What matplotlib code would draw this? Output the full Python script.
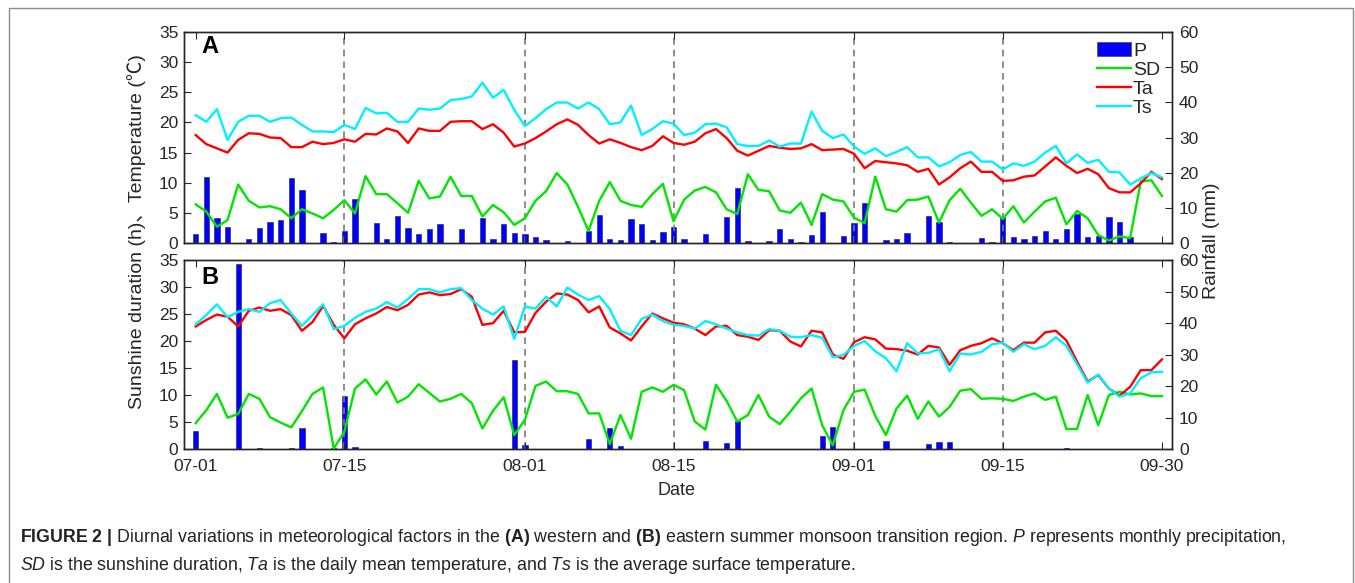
import matplotlib

matplotlib.use("Agg")
import matplotlib.pyplot as plt
from matplotlib.lines import Line2D
from matplotlib.patches import Patch, Rectangle

plt.rcParams["font.family"] = ["Liberation Sans", "DejaVu Sans"]
plt.rcParams["mathtext.fontset"] = "custom"
plt.rcParams["mathtext.rm"] = "Liberation Sans"
plt.rcParams["mathtext.it"] = "Liberation Sans:italic"
plt.rcParams["mathtext.bf"] = "Liberation Sans:bold"

# day index 0 = 07-01 ... 91 = 09-30
tick_days = [0, 14, 31, 45, 62, 76, 91]
tick_labels = ["07-01", "07-15", "08-01", "08-15", "09-01", "09-15", "09-30"]
guide_days = [14, 31, 45, 62, 76]

# panel A: western region
ts_a = [21.2, 20.1, 22.2, 17.1, 20.1, 21.1, 21.1, 20.1, 20.7, 20.8, 19.6, 18.5, 18.5, 18.4, 19.6, 18.9,
        22.4, 21.5, 21.6, 20.1, 20.1, 22.3, 22.1, 22.3, 23.7, 23.9, 24.3, 26.6, 24.1, 25.4,
        22.1, 19.4, 20.7, 22.2, 23.3, 23.3, 22.3, 23.3, 22.2, 19.7, 20.0, 22.8, 17.9, 18.9, 20.2, 19.8,
        17.9, 18.3, 19.7, 19.8, 19.2, 16.4, 16.1, 16.1, 17.0, 16.0, 16.5, 16.5, 21.8, 18.6, 17.4, 18.0, 16.0,
        14.8, 15.7, 14.4, 15.1, 15.9, 14.2, 14.2, 12.7, 13.4, 14.6, 15.1, 13.5, 13.5, 12.2, 13.2, 12.8,
        13.5, 15.0, 16.1, 13.2, 14.7, 13.3, 13.8, 11.8, 11.7, 9.7, 10.7, 11.6, 10.9]
ta_a = [17.9, 16.4, 15.7, 15.0, 17.1, 18.2, 18.1, 17.5, 17.4, 15.9, 15.9, 16.8, 16.4, 16.6, 17.2, 16.8,
        18.1, 18.0, 19.0, 18.5, 16.6, 19.0, 18.6, 18.6, 20.1, 20.2, 20.2, 18.9, 19.7, 18.3,
        16.0, 16.5, 17.4, 18.5, 19.7, 20.5, 19.6, 17.9, 16.5, 17.2, 16.6, 15.9, 15.4, 16.1, 17.7, 16.6,
        16.3, 16.8, 18.2, 18.9, 17.4, 15.3, 14.5, 15.3, 16.1, 15.8, 15.6, 15.7, 16.4, 15.4, 15.5, 15.6, 14.8,
        12.4, 13.6, 13.4, 13.2, 12.9, 11.8, 12.3, 9.7, 10.9, 12.4, 13.5, 11.8, 11.8, 10.3, 10.4, 11.0,
        11.2, 12.7, 14.2, 12.8, 11.6, 12.3, 11.4, 9.1, 8.4, 8.4, 9.9, 11.8, 10.6]
sd_a = [6.4, 5.2, 2.7, 3.8, 9.7, 7.0, 5.9, 6.1, 5.6, 4.1, 5.6, 4.9, 4.1, 5.5, 7.1, 4.9,
        11.1, 8.1, 8.1, 6.6, 5.0, 10.3, 7.4, 7.7, 11.0, 7.8, 7.8, 4.4, 6.3, 5.1,
        3.0, 4.1, 7.0, 8.6, 11.6, 9.7, 6.0, 2.0, 7.0, 10.1, 7.0, 6.3, 6.0, 8.1, 9.8, 3.6,
        7.2, 8.7, 9.3, 8.4, 5.6, 4.8, 11.4, 8.8, 8.6, 5.4, 5.0, 6.7, 3.0, 8.1, 7.2, 6.9, 4.2,
        3.3, 11.0, 5.6, 5.2, 7.1, 7.2, 7.7, 3.4, 7.1, 9.0, 6.7, 4.5, 5.6, 4.0, 6.1, 3.4,
        5.2, 6.9, 7.5, 3.1, 5.3, 4.1, 1.3, 0.4, 1.1, 0.8, 10.2, 10.4, 7.8]
p_a = [2.6, 18.9, 7.1, 4.6, 0.0, 1.1, 4.2, 6.1, 6.5, 18.6, 15.0, 0.0, 2.9, 0.4, 3.4, 12.5,
       0.0, 5.8, 1.1, 7.7, 4.2, 2.6, 4.0, 5.4, 0.0, 3.9, 0.0, 7.0, 1.1, 5.4,
       2.9, 2.6, 1.8, 0.8, 0.0, 0.6, 0.0, 3.5, 8.0, 1.0, 0.9, 6.8, 5.5, 0.9, 3.1, 4.5,
       1.0, 0.0, 2.5, 0.0, 7.5, 15.6, 0.6, 0.0, 0.5, 3.9, 1.1, 0.4, 2.2, 8.8, 0.0, 1.9, 5.6,
       11.3, 0.0, 0.9, 1.0, 2.7, 0.0, 7.7, 6.1, 0.2, 0.0, 0.0, 1.5, 0.2, 7.5, 1.6, 1.0,
       2.0, 3.4, 1.0, 4.0, 8.2, 1.6, 2.0, 7.3, 6.1, 1.7, 0.0, 0.0, 0.0]

# panel B: eastern region
ts_b = [23.1, 24.8, 26.8, 24.4, 25.4, 25.9, 25.4, 27.0, 27.6, 25.1, 22.8, 24.8, 26.8, 22.2, 22.8, 24.3,
        25.4, 26.0, 27.2, 26.2, 27.8, 29.6, 29.6, 29.0, 29.6, 29.8, 27.6, 26.0, 24.9, 26.4,
        20.4, 26.4, 26.0, 28.2, 26.4, 29.9, 28.6, 27.6, 28.3, 25.9, 21.9, 21.1, 24.1, 24.9, 23.7, 23.0,
        22.8, 22.3, 23.7, 23.1, 22.3, 21.6, 21.1, 21.0, 22.2, 21.9, 20.8, 20.7, 21.1, 20.6, 17.0, 17.4, 19.1,
        20.0, 18.1, 16.8, 14.4, 19.6, 17.7, 17.8, 18.5, 14.4, 17.7, 17.5, 18.0, 19.4, 19.7, 18.0, 19.4,
        18.5, 19.1, 20.7, 19.1, 15.7, 12.3, 13.8, 11.2, 9.7, 10.3, 13.1, 14.2, 14.3]
ta_b = [22.7, 23.9, 24.9, 24.5, 22.7, 25.6, 26.2, 25.6, 25.9, 24.8, 21.9, 23.5, 26.5, 23.0, 20.5, 23.1,
        24.2, 25.1, 26.3, 25.7, 26.7, 28.6, 29.0, 28.5, 28.7, 29.6, 28.2, 23.0, 23.3, 25.6,
        21.6, 21.7, 25.2, 27.3, 28.8, 28.6, 27.6, 25.3, 26.4, 22.5, 21.4, 20.1, 22.7, 25.1, 24.2, 23.4,
        23.1, 22.3, 21.1, 22.7, 22.8, 21.1, 20.8, 20.2, 22.0, 21.9, 19.9, 19.0, 21.9, 21.6, 17.5, 16.7, 19.8,
        20.7, 20.3, 18.6, 18.5, 18.2, 17.5, 19.1, 18.8, 15.6, 18.3, 19.1, 19.6, 20.5, 19.6, 18.3, 19.7,
        19.7, 21.6, 21.9, 20.1, 16.2, 12.5, 13.7, 11.2, 9.9, 11.5, 14.6, 14.6, 16.6]
sd_b = [4.8, 7.2, 10.2, 5.8, 6.5, 10.2, 9.3, 5.9, 4.9, 4.0, 7.0, 10.2, 11.4, 0.1, 3.2, 11.2,
        12.9, 10.1, 12.5, 8.6, 9.7, 12.0, 10.4, 8.8, 9.3, 10.2, 8.5, 3.8, 7.1, 9.6,
        2.6, 5.4, 11.7, 12.5, 10.7, 10.7, 10.2, 6.6, 6.6, 0.9, 6.3, 1.9, 10.6, 11.4, 10.6, 11.9,
        10.9, 5.1, 3.6, 11.9, 8.9, 5.1, 6.3, 10.0, 6.0, 4.6, 6.9, 9.4, 11.2, 4.4, 0.7, 7.2, 10.6,
        11.0, 6.1, 2.6, 7.5, 9.9, 5.6, 8.8, 6.0, 7.8, 10.8, 11.1, 9.3, 9.4, 9.3, 8.9, 9.7,
        10.3, 9.1, 9.7, 3.7, 3.7, 10.0, 4.4, 10.0, 10.6, 10.1, 10.3, 9.8, 9.8]
p_b = [5.7, 0.0, 0.0, 0.0, 58.6, 0.0, 0.3, 0.0, 0.0, 0.2, 6.8, 0.0, 0.0, 0.2, 16.9, 0.5,
       0.0, 0.0, 0.0, 0.0, 0.0, 0.0, 0.0, 0.0, 0.0, 0.0, 0.0, 0.1, 0.0, 0.0,
       28.3, 1.3, 0.0, 0.0, 0.0, 0.0, 0.0, 3.2, 0.0, 6.6, 1.0, 0.0, 0.0, 0.0, 0.0, 0.0,
       0.0, 0.0, 2.5, 0.0, 1.8, 9.0, 0.0, 0.0, 0.0, 0.0, 0.0, 0.0, 0.0, 4.1, 6.9, 0.0, 0.0,
       0.0, 0.0, 2.5, 0.0, 0.0, 0.0, 1.5, 2.1, 2.1, 0.0, 0.0, 0.0, 0.0, 0.0, 0.0, 0.0,
       0.0, 0.0, 0.1, 0.4, 0.0, 0.0, 0.0, 0.0, 0.0, 0.0, 0.0, 0.0, 0.0]

TEXT = "#262626"
BAR_BLUE = "#0000ff"
SD_GREEN = "#00e600"
TA_RED = "#ff0000"
TS_CYAN = "#00f0ff"
FS = 12.5


def draw_panel(fig, rect, letter, letter_y, ts, ta, sd, p, show_xticks):
    days = list(range(len(ts)))
    ax = fig.add_axes(rect)
    ax2 = ax.twinx()
    # keep the temperature / sunshine lines above the rainfall bars
    ax.set_zorder(ax2.get_zorder() + 1)
    ax.patch.set_visible(False)

    ax2.bar(days, p, width=0.5, color=BAR_BLUE, edgecolor="#1a1a5a", linewidth=0.4)
    for d in guide_days:
        ax.axvline(d, color="#7a7a7a", linestyle=(0, (4, 3)), linewidth=1.2, zorder=1)
    ax.plot(days, sd, color=SD_GREEN, linewidth=1.7, zorder=3)
    ax.plot(days, ta, color=TA_RED, linewidth=1.7, zorder=3)
    ax.plot(days, ts, color=TS_CYAN, linewidth=1.7, zorder=3)

    ax.set_xlim(-1.1, 91.95)
    ax.set_ylim(0, 35)
    ax2.set_ylim(0, 60)
    ax.set_yticks(range(0, 36, 5))
    ax2.set_yticks(range(0, 61, 10))
    ax.set_xticks(tick_days)
    if show_xticks:
        ax.set_xticklabels(tick_labels)
    else:
        ax.set_xticklabels([])

    ax.tick_params(axis="x", direction="in", top=True, length=5, width=0.8,
                   labelsize=FS, colors=TEXT, pad=7)
    ax.tick_params(axis="y", direction="in", left=True, right=False, length=5, width=0.8,
                   labelsize=FS, colors=TEXT, pad=4)
    ax2.tick_params(axis="y", direction="in", length=5, width=0.8,
                    labelsize=FS, colors=TEXT, pad=5)
    for a in (ax, ax2):
        for spine in a.spines.values():
            spine.set_color(TEXT)
            spine.set_linewidth(1.0)

    ax.text(0.018, letter_y, letter, transform=ax.transAxes, fontsize=17,
            fontweight="bold", ha="left", va="center", color="black")
    return ax


def main() -> None:
    fig = plt.figure(figsize=(13.55, 5.83), dpi=100)

    ax_a = draw_panel(fig, [0.1358, 0.5832, 0.7292, 0.3619], "A", 0.929,
                      ts_a, ta_a, sd_a, p_a, show_xticks=False)
    draw_panel(fig, [0.1358, 0.2298, 0.7292, 0.3242], "B", 0.905,
               ts_b, ta_b, sd_b, p_b, show_xticks=True)

    handles = [
        Patch(facecolor=BAR_BLUE, edgecolor="#555555", linewidth=0.6),
        Line2D([], [], color=SD_GREEN, linewidth=1.7),
        Line2D([], [], color=TA_RED, linewidth=1.7),
        Line2D([], [], color=TS_CYAN, linewidth=1.7),
    ]
    ax_a.legend(handles, ["P", "SD", "Ta", "Ts"], loc="upper right",
                bbox_to_anchor=(0.988, 0.955), frameon=False, fontsize=14,
                handlelength=1.75, handleheight=0.78, handletextpad=0.1,
                labelspacing=0.05, borderaxespad=0.0, borderpad=0.0, labelcolor=TEXT)

    fig.text(0.101, 0.602, "Sunshine duration (h)、Temperature (℃)", rotation=90,
             ha="center", va="center", fontsize=14, color=TEXT,
             family=["Liberation Sans", "Noto Sans CJK SC"])
    fig.text(0.894, 0.587, "Rainfall (mm)", rotation=90, ha="center", va="center",
             fontsize=14, color=TEXT)
    fig.text(0.4996, 0.1595, "Date", ha="center", va="center", fontsize=13, color=TEXT)

    line1 = (r"$\mathbf{FIGURE\ 2\ |}$ Diurnal variations in meteorological factors in the "
             r"$\mathbf{(A)}$ western and $\mathbf{(B)}$ eastern summer monsoon transition region. "
             r"$\mathit{P}$ represents monthly precipitation,")
    line2 = (r"$\mathit{SD}$ is the sunshine duration, $\mathit{Ta}$ is the daily mean temperature, "
             r"and $\mathit{Ts}$ is the average surface temperature.")
    fig.text(20 / 1355, 1 - 537 / 583, line1, ha="left", va="center", fontsize=12.8, color="#222222")
    fig.text(20 / 1355, 1 - 566 / 583, line2, ha="left", va="center", fontsize=12.8, color="#222222")

    frame = Rectangle((9 / 1355, -0.02), (1353 - 9) / 1355, 1 - 8 / 583 + 0.02,
                      transform=fig.transFigure, fill=False, edgecolor="#8c8c8c", linewidth=1.0)
    fig.patches.append(frame)

    fig.savefig("out.png", dpi=100)
    plt.close(fig)


if __name__ == "__main__":
    main()
